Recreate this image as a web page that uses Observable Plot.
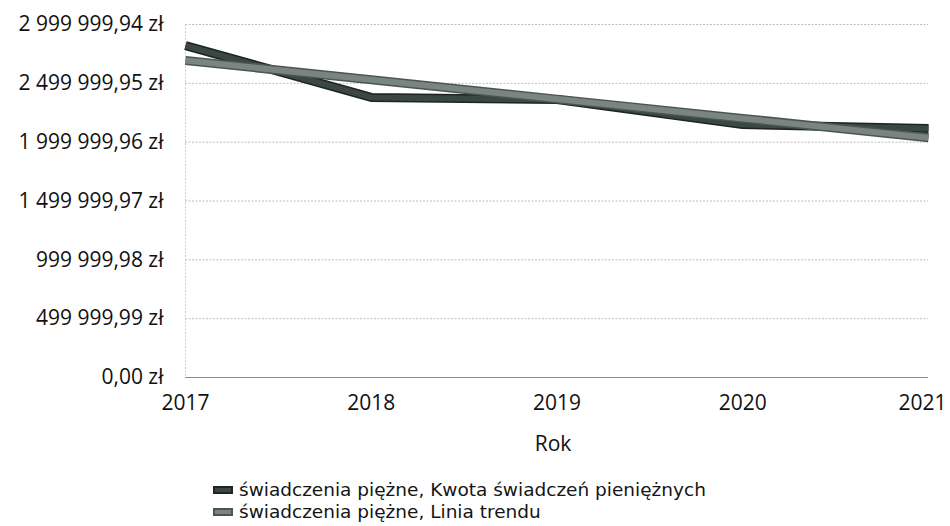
<!DOCTYPE html>
<html>
<head>
<meta charset="utf-8">
<script src="https://cdn.jsdelivr.net/npm/d3@7"></script>
<script src="https://cdn.jsdelivr.net/npm/@observablehq/plot@0.6"></script>
<style>
  body { margin: 0; background: #fff; font-family: "Open Sans", sans-serif; color: #111; }
  #xlabel { position: relative; width: 950px; height: 38px; line-height: 38px; font-size: 21px; }
  #xlabel span { position: absolute; left: 553px; transform: translateX(-50%); }
  #legend { padding-top: 17px; padding-left: 213px; font-family: "DejaVu Sans", sans-serif; font-size: 18.5px; line-height: 22px; color: #151515; }
  .item { display: flex; align-items: center; height: 22px; }
  .sw { width: 20px; height: 8px; margin-right: 6px; box-sizing: border-box; flex: none; }
  .lt { white-space: nowrap; }
</style>
</head>
<body>
<div id="chart"></div>
<div id="xlabel"><span>Rok</span></div>
<div id="legend"></div>
<script>
const years = [2017, 2018, 2019, 2020, 2021];
const kwota = [2821000, 2380000, 2363000, 2150000, 2116000];
const trend = [2694000, 2530000, 2366000, 2202000, 2038000];
const yTicks = [0, 499999.99, 999999.98, 1499999.97, 1999999.96, 2499999.95, 2999999.94];
const seriesNames = ["świadczenia piężne, Kwota świadczeń pieniężnych", "świadczenia piężne, Linia trendu"];
const seriesFill = ["#3a4742", "#7a8580"];
const seriesEdge = ["#1c2521", "#4b5651"];

const pl = d3.formatLocale({decimal: ",", thousands: " ", grouping: [3], currency: ["", ""]});
const fmt = v => pl.format(",.2f")(v) + " zł";

const dataK = years.map((y, i) => ({year: y, value: kwota[i]}));
const dataT = years.map((y, i) => ({year: y, value: trend[i]}));

const chart = Plot.plot({
  width: 950,
  height: 424,
  marginLeft: 185,
  marginRight: 22,
  marginTop: 24,
  marginBottom: 47,
  style: {fontFamily: "Open Sans, sans-serif", fontSize: "21px", color: "#111", overflow: "visible"},
  x: {domain: [2017, 2021], label: null},
  y: {domain: [0, 2999999.94], label: null},
  marks: [
    Plot.gridY(yTicks.slice(1), {stroke: "#bdbdbd", strokeOpacity: 1, strokeDasharray: "2,1.5"}),
    Plot.ruleX([2017], {stroke: "#cfcfcf", strokeDasharray: "2,1.5"}),
    Plot.ruleY([0], {stroke: "#8a8a8a", strokeWidth: 1.2}),
    Plot.line(dataK, {x: "year", y: "value", stroke: seriesEdge[0], strokeWidth: 9, strokeLinejoin: "miter", strokeLinecap: "butt"}),
    Plot.line(dataK, {x: "year", y: "value", stroke: seriesFill[0], strokeWidth: 6, strokeLinejoin: "miter", strokeLinecap: "butt"}),
    Plot.line(dataT, {x: "year", y: "value", stroke: seriesEdge[1], strokeWidth: 9, strokeLinejoin: "miter", strokeLinecap: "butt"}),
    Plot.line(dataT, {x: "year", y: "value", stroke: seriesFill[1], strokeWidth: 6, strokeLinejoin: "miter", strokeLinecap: "butt"}),
    Plot.axisX({ticks: years.slice(0, -1), tickFormat: d => String(d), tickSize: 0, tickPadding: 18, label: null, fontSize: 21}),
    Plot.axisX({ticks: years.slice(-1), tickFormat: d => String(d), tickSize: 0, tickPadding: 18, label: null, fontSize: 21, dx: -6}),
    Plot.axisY({ticks: yTicks, tickFormat: fmt, tickSize: 0, tickPadding: 22, label: null, fontSize: 21})
  ]
});
document.getElementById("chart").appendChild(chart);

const legend = document.getElementById("legend");
seriesNames.forEach((name, i) => {
  const row = document.createElement("div");
  row.className = "item";
  const sw = document.createElement("span");
  sw.className = "sw";
  sw.style.background = seriesFill[i];
  sw.style.border = "2px solid " + seriesEdge[i];
  const t = document.createElement("span");
  t.className = "lt";
  t.textContent = name;
  row.appendChild(sw);
  row.appendChild(t);
  legend.appendChild(row);
});
</script>
</body>
</html>
